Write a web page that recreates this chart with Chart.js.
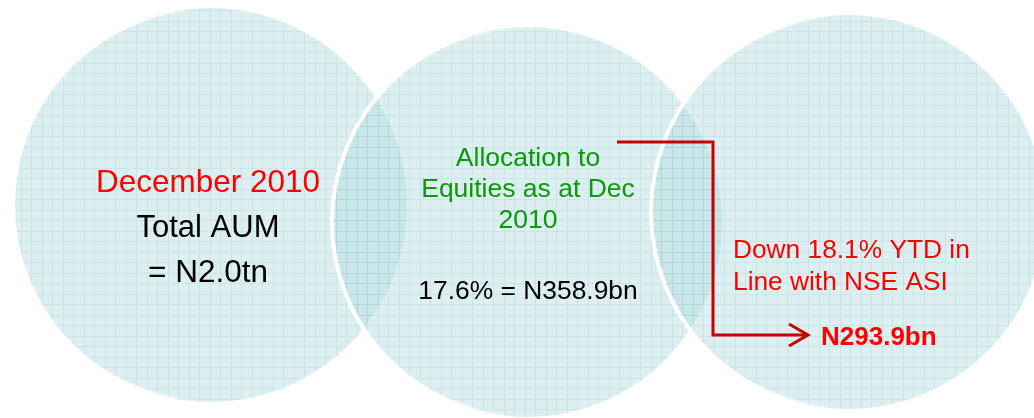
<!DOCTYPE html>
<html>
<head>
<meta charset="utf-8">
<script src="https://cdn.jsdelivr.net/npm/chart.js@4.4.0/dist/chart.umd.min.js"></script>
<style>
  html, body { margin: 0; padding: 0; background: #fff; }
  #wrap { position: relative; width: 1034px; height: 418px; }
</style>
</head>
<body>
<div id="wrap"><canvas id="diagram"></canvas></div>
<script>
"use strict";
// three overlapping circles (centre x, centre y, radius) in the page's own units
const circleX = [210, 527, 848];
const circleY = [205, 222, 212];
const circleR = [197, 195, 197];

// red connector and its open arrow head
const connectorX = [617, 713, 713, 806];
const connectorY = [142, 142, 335, 335];
const arrowX = [789, 808, 789];
const arrowY = [324, 335, 346];

// texts written inside the circles
const labelText = [
    "December 2010", "Total AUM", "= N2.0tn",
    "Allocation to", "Equities as at Dec", "2010",
    "17.6% = N358.9bn",
    "Down 18.1% YTD in", "Line with NSE ASI",
    "N293.9bn",
];
const labelX = [208, 208, 208, 528, 528, 528, 528, 733, 733, 821];
const labelY = [192, 237, 282, 166, 197, 228, 299, 258, 290, 345];
const labelColor = ["#ff0000", "#000", "#000", "#0a9a0a", "#0a9a0a", "#0a9a0a", "#000", "#ff0000", "#ff0000", "#ff0000"];
const labelSize = [31.5, 31, 31.5, 26.5, 26.5, 26.5, 26.4, 26.3, 26.3, 26];
const labelWeight = ["normal", "normal", "normal", "normal", "normal", "normal", "normal", "normal", "normal", "bold"];
const labelAlign = ["center", "center", "center", "center", "center", "center", "center", "left", "left", "left"];

const FONT = "'Liberation Sans', Arial, sans-serif";

function makeGrid() {
    const p = document.createElement("canvas");
    p.width = 21;
    p.height = 21;
    const g = p.getContext("2d");
    g.fillStyle = "rgba(180,220,225,0.45)";
    g.fillRect(0, 0, 21, 21);
    g.clearRect(0, 0, 21, 1);
    g.clearRect(0, 10, 21, 1);
    g.clearRect(0, 0, 1, 21);
    g.clearRect(10, 0, 1, 21);
    g.fillStyle = "rgba(133,199,204,0.45)";
    g.fillRect(0, 0, 21, 1);
    g.fillRect(0, 10, 21, 1);
    g.fillRect(0, 1, 1, 9);
    g.fillRect(0, 11, 1, 10);
    g.fillRect(10, 1, 1, 9);
    g.fillRect(10, 11, 1, 10);
    return g.createPattern(p, "repeat");
}

// white rim only on the left half of each circle
function rimColor(ctx) {
    const raw = ctx.raw;
    if (!raw || ctx.type !== "data") return "#fff";
    let px = ctx.chart.scales.x ? ctx.chart.scales.x.getPixelForValue(raw.x) : NaN;
    if (!Number.isFinite(px)) px = raw.x;
    const r = raw.r;
    if (!Number.isFinite(px) || !Number.isFinite(r)) return "#fff";
    const grad = ctx.chart.ctx.createLinearGradient(px - r, 0, px + r, 0);
    grad.addColorStop(0, "#fff");
    grad.addColorStop(0.3, "#fff");
    grad.addColorStop(0.48, "rgba(255,255,255,0)");
    grad.addColorStop(1, "rgba(255,255,255,0)");
    return grad;
}

const textPlugin = {
    id: "circleText",
    afterDatasetsDraw(chart) {
        const { ctx, scales: { x, y } } = chart;
        ctx.save();
        ctx.textBaseline = "alphabetic";
        labelText.forEach((t, i) => {
            ctx.font = `${labelWeight[i]} ${labelSize[i]}px ${FONT}`;
            ctx.fillStyle = labelColor[i];
            ctx.textAlign = labelAlign[i];
            ctx.fillText(t, x.getPixelForValue(labelX[i]), y.getPixelForValue(labelY[i]));
        });
        ctx.restore();
    },
};

const grid = makeGrid();

new Chart(document.getElementById("diagram"), {
    type: "bubble",
    data: {
        datasets: [
            {
                type: "line",
                data: connectorX.map((v, i) => ({ x: v, y: connectorY[i] })),
                borderColor: "#c80000",
                borderWidth: 3,
                borderJoinStyle: "miter",
                pointRadius: 0,
                tension: 0,
                fill: false,
                clip: false,
            },
            {
                type: "line",
                data: arrowX.map((v, i) => ({ x: v, y: arrowY[i] })),
                borderColor: "#c80000",
                borderWidth: 3,
                borderJoinStyle: "miter",
                pointRadius: 0,
                tension: 0,
                fill: false,
                clip: false,
            },
            {
                data: circleX.map((v, i) => ({ x: v, y: circleY[i], r: circleR[i] })),
                backgroundColor: grid,
                borderColor: rimColor,
                borderWidth: 4,
                clip: false,
            },
        ],
    },
    options: {
        responsive: true,
        maintainAspectRatio: false,
        animation: false,
        events: [],
        layout: { padding: 0, autoPadding: false },
        scales: {
            x: { type: "linear", min: 0, max: 1034, display: false },
            y: { type: "linear", min: 0, max: 418, reverse: true, display: false },
        },
        plugins: {
            legend: { display: false },
            tooltip: { enabled: false },
        },
    },
    plugins: [textPlugin],
});
</script>
</body>
</html>
